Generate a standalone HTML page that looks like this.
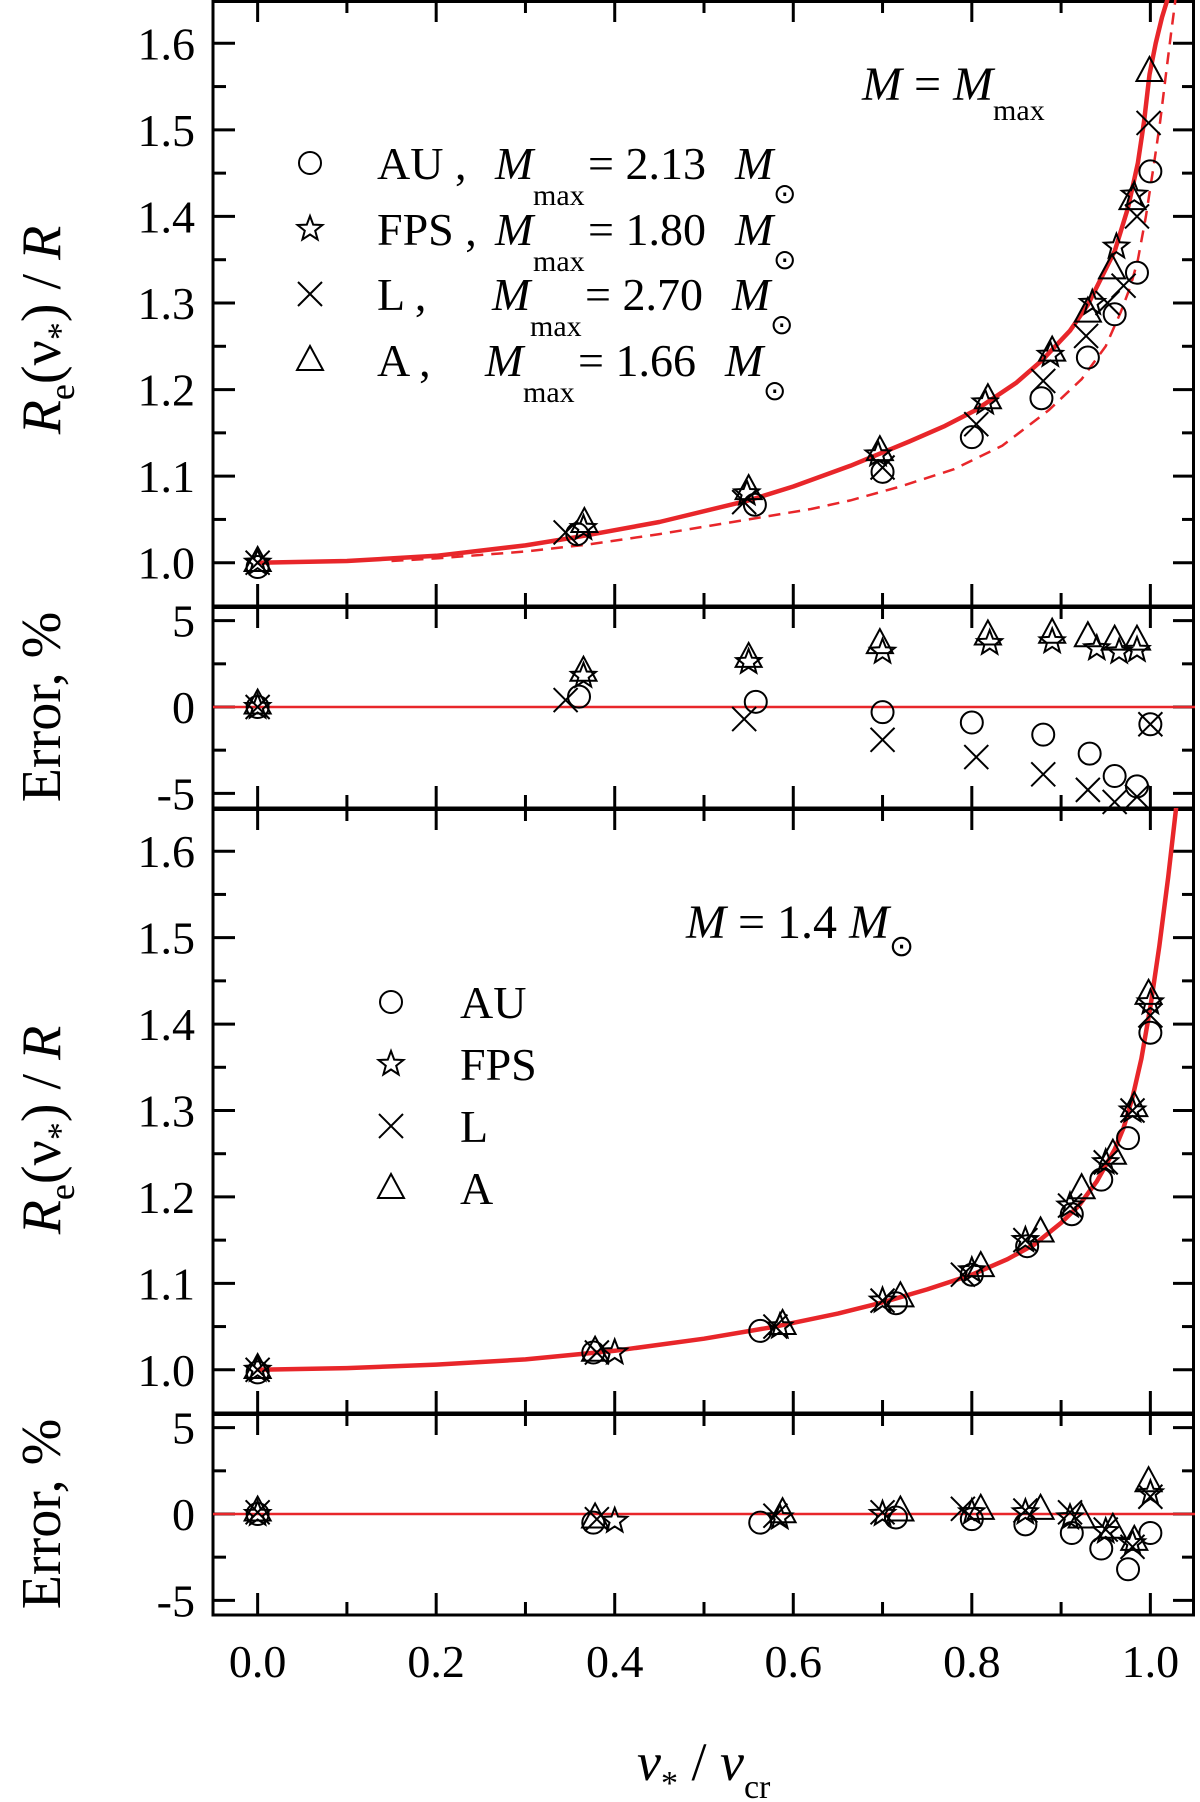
<!DOCTYPE html>
<html><head><meta charset="utf-8"><style>
html,body{margin:0;padding:0;background:#fff;}
svg{display:block;font-family:"Liberation Serif",serif;}
</style></head><body>
<svg id="chart" width="1200" height="1802" viewBox="0 0 1200 1802" xmlns="http://www.w3.org/2000/svg"></svg>
<script>
// ---- data ----
const xTicks = [0.0, 0.2, 0.4, 0.6, 0.8, 1.0];
const xTickLabels = ["0.0", "0.2", "0.4", "0.6", "0.8", "1.0"];
const rTicks = [1.0, 1.1, 1.2, 1.3, 1.4, 1.5, 1.6];
const rTickLabels = ["1.0", "1.1", "1.2", "1.3", "1.4", "1.5", "1.6"];
const eTicks = [-5, 0, 5];
const eTickLabels = ["-5", "0", "5"];

const curveTopSolidX = [0, 0.1, 0.2, 0.3, 0.36, 0.45, 0.55, 0.6, 0.664, 0.73, 0.77, 0.804, 0.85, 0.879, 0.91, 0.93, 0.96, 0.975, 0.986, 0.993, 0.999, 1.006, 1.013, 1.019, 1.025];
const curveTopSolidY = [1.0, 1.002, 1.008, 1.02, 1.03, 1.047, 1.072, 1.088, 1.112, 1.14, 1.158, 1.176, 1.208, 1.234, 1.268, 1.298, 1.36, 1.41, 1.462, 1.51, 1.564, 1.6, 1.63, 1.65, 1.7];
const curveTopDashX = [0.15, 0.2, 0.3, 0.37, 0.45, 0.55, 0.62, 0.664, 0.72, 0.78, 0.834, 0.886, 0.923, 0.95, 0.967, 0.978, 0.986, 0.995, 1.004, 1.011, 1.017, 1.023, 1.028, 1.035];
const curveTopDashY = [1.002, 1.005, 1.013, 1.021, 1.033, 1.05, 1.062, 1.072, 1.088, 1.108, 1.135, 1.176, 1.212, 1.25, 1.29, 1.32, 1.35, 1.4, 1.46, 1.51, 1.56, 1.61, 1.65, 1.72];
const curveBotX = [0, 0.1, 0.2, 0.3, 0.4, 0.5, 0.58, 0.65, 0.7, 0.75, 0.8, 0.84, 0.87, 0.9, 0.92, 0.94, 0.96, 0.97, 0.98, 0.99, 1.0, 1.01, 1.02, 1.03];
const curveBotY = [1.0, 1.002, 1.006, 1.012, 1.022, 1.036, 1.05, 1.065, 1.078, 1.093, 1.11, 1.128, 1.145, 1.17, 1.19, 1.218, 1.255, 1.28, 1.315, 1.36, 1.42, 1.49, 1.57, 1.66];

// Panel 1: M = Mmax
const p1AUx = [0, 0.358, 0.557, 0.7, 0.8, 0.878, 0.93, 0.96, 0.985, 1.0];
const p1AUy = [0.995, 1.033, 1.067, 1.105, 1.145, 1.19, 1.237, 1.287, 1.335, 1.452];
const p1FPSx = [0, 0.365, 0.548, 0.695, 0.815, 0.888, 0.935, 0.962, 0.982];
const p1FPSy = [1.0, 1.04, 1.08, 1.125, 1.185, 1.24, 1.30, 1.365, 1.425];
const p1Lx = [0, 0.345, 0.545, 0.7, 0.805, 0.88, 0.928, 0.952, 0.97, 0.985, 0.998];
const p1Ly = [1.0, 1.035, 1.07, 1.11, 1.16, 1.21, 1.262, 1.3, 1.32, 1.40, 1.508];
const p1Ax = [0, 0.366, 0.55, 0.697, 0.818, 0.89, 0.93, 0.957, 0.98, 0.999];
const p1Ay = [1.002, 1.047, 1.085, 1.13, 1.19, 1.245, 1.29, 1.34, 1.42, 1.568];
// Panel 2: errors
const p2AUx = [0, 0.36, 0.558, 0.7, 0.8, 0.88, 0.932, 0.96, 0.985, 1.0];
const p2AUy = [0, 0.6, 0.3, -0.3, -0.9, -1.6, -2.7, -4.0, -4.6, -1.0];
const p2FPSx = [0, 0.365, 0.55, 0.7, 0.82, 0.89, 0.94, 0.965, 0.985];
const p2FPSy = [0, 1.8, 2.6, 3.2, 3.7, 3.8, 3.4, 3.2, 3.3];
const p2Lx = [0, 0.345, 0.545, 0.7, 0.805, 0.88, 0.93, 0.96, 0.985, 1.0];
const p2Ly = [0, 0.4, -0.7, -1.9, -2.9, -3.9, -4.8, -5.5, -5.2, -1.0];
const p2Ax = [0, 0.365, 0.55, 0.697, 0.818, 0.89, 0.93, 0.96, 0.985];
const p2Ay = [0.2, 2.1, 2.9, 3.7, 4.2, 4.3, 4.1, 3.9, 3.9];
// Panel 3: M = 1.4
const p3AUx = [0, 0.376, 0.563, 0.715, 0.8, 0.862, 0.912, 0.945, 0.975, 1.0];
const p3AUy = [0.997, 1.02, 1.045, 1.077, 1.11, 1.143, 1.18, 1.22, 1.268, 1.39];
const p3FPSx = [0, 0.4, 0.585, 0.7, 0.8, 0.86, 0.91, 0.95, 0.98, 1.0];
const p3FPSy = [1.0, 1.02, 1.05, 1.08, 1.115, 1.15, 1.19, 1.24, 1.3, 1.425];
const p3Lx = [0, 0.38, 0.58, 0.7, 0.79, 0.86, 0.91, 0.95, 0.98, 1.0];
const p3Ly = [1.0, 1.02, 1.05, 1.08, 1.11, 1.15, 1.19, 1.24, 1.3, 1.41];
const p3Ax = [0, 0.378, 0.588, 0.72, 0.81, 0.877, 0.923, 0.958, 0.982, 0.998];
const p3Ay = [1.002, 1.022, 1.053, 1.085, 1.12, 1.16, 1.21, 1.25, 1.305, 1.435];
// Panel 4: errors
const p4AUx = [0, 0.376, 0.563, 0.715, 0.8, 0.86, 0.912, 0.945, 0.975, 1.0];
const p4AUy = [0, -0.5, -0.5, -0.2, -0.3, -0.6, -1.1, -2.0, -3.2, -1.1];
const p4FPSx = [0, 0.4, 0.585, 0.7, 0.8, 0.86, 0.91, 0.95, 0.98, 1.0];
const p4FPSy = [0, -0.4, -0.2, 0, 0.1, 0.1, -0.2, -1.0, -1.7, 1.2];
const p4Lx = [0, 0.38, 0.58, 0.7, 0.79, 0.86, 0.91, 0.95, 0.98, 1.0];
const p4Ly = [0.1, -0.3, -0.1, 0.1, 0.3, 0.2, 0.1, -0.9, -1.9, 1.0];
const p4Ax = [0, 0.378, 0.588, 0.72, 0.81, 0.877, 0.923, 0.958, 0.982, 0.998];
const p4Ay = [0.2, -0.2, 0.1, 0.2, 0.3, 0.3, -0.2, -0.8, -1.5, 1.9];

// ---- layout ----
const NS = "http://www.w3.org/2000/svg";
const svg = document.getElementById("chart");
const L = 213, R = 1195;
const xMin = -0.05, xMax = 1.05;
function sx(v){ return L + (v - xMin) / (xMax - xMin) * (R - L); }
const panels = [
  {top:0, bot:606, min:0.95, max:1.65, kind:"r", name:"top-ratio-panel"},
  {top:606, bot:808, min:-5.85, max:5.85, kind:"e", name:"top-error-panel"},
  {top:808, bot:1413, min:0.95, max:1.65, kind:"r", name:"bottom-ratio-panel"},
  {top:1413, bot:1615, min:-5.85, max:5.85, kind:"e", name:"bottom-error-panel"}
];
function syFor(p){ return v => p.bot - (v - p.min) / (p.max - p.min) * (p.bot - p.top); }

function el(tag, attrs, parent){
  const e = document.createElementNS(NS, tag);
  for (const k in attrs) e.setAttribute(k, attrs[k]);
  (parent || svg).appendChild(e);
  return e;
}

const defs = el("defs", {});
panels.forEach((p, i) => {
  const cp = el("clipPath", {id: "clip" + i}, defs);
  el("rect", {x: L, y: p.top, width: R - L, height: p.bot - p.top}, cp);
});

panels.forEach((p, i) => {
  const g = el("g", {});
  
  
  const sy = syFor(p);
  for (let k = 0; k <= 10; k++) {
    const v = k / 10;
    const x = sx(v);
    const len = (k % 2 === 0) ? 22 : 13;
    el("line", {x1: x, y1: p.bot, x2: x, y2: p.bot - len, stroke: "#000", "stroke-width": 3}, g);
    el("line", {x1: x, y1: p.top, x2: x, y2: p.top + len, stroke: "#000", "stroke-width": 3}, g);
  }
  const major = p.kind === "r" ? rTicks : eTicks;
  const labels = p.kind === "r" ? rTickLabels : eTickLabels;
  const step = p.kind === "r" ? 0.05 : 2.5;
  for (let v = Math.ceil(p.min / step) * step; v <= p.max + 1e-9; v += step) {
    const y = sy(v);
    const isMajor = major.some(m => Math.abs(m - v) < 1e-6);
    const len = isMajor ? 22 : 13;
    el("line", {x1: L, y1: y, x2: L + len, y2: y, stroke: "#000", "stroke-width": 3}, g);
    el("line", {x1: R, y1: y, x2: R - len, y2: y, stroke: "#000", "stroke-width": 3}, g);
  }
  major.forEach((v, j) => {
    const t = el("text", {x: 195, y: sy(v) + 16, "text-anchor": "end", "font-size": 46}, g);
    t.textContent = labels[j];
    
    
  });
  el("rect", {x: L, y: p.top + 1.5, width: R - L - 1.5, height: p.bot - p.top - 1.5, fill: "none", stroke: "#000", "stroke-width": 3}, g);
  if (p.kind === "e") {
    const z = el("line", {x1: L, y1: sy(0), x2: R, y2: sy(0), stroke: "#e8262a", "stroke-width": 2.5}, g);
    
    
  }
});

xTicks.forEach((v, j) => {
  const t = el("text", {x: sx(v), y: 1677, "text-anchor": "middle", "font-size": 46});
  t.textContent = xTickLabels[j];
  
  
});

function drawCurve(xs, ys, p, idx, dashed, name){
  const sy = syFor(p);
  const d = xs.map((x, i) => (i ? "L" : "M") + sx(x).toFixed(1) + "," + sy(ys[i]).toFixed(1)).join(" ");
  const path = el("path", {d: d, fill: "none", stroke: "#e8262a", "stroke-width": dashed ? 2.5 : 4.5, "stroke-dasharray": dashed ? "12,8" : "none", "stroke-linejoin": "round", "clip-path": "url(#clip" + idx + ")"});
  
  
}
drawCurve(curveTopDashX, curveTopDashY, panels[0], 0, true, 'dashed-curve-mmax');
drawCurve(curveTopSolidX, curveTopSolidY, panels[0], 0, false, 'solid-curve-mmax');
drawCurve(curveBotX, curveBotY, panels[2], 2, false, 'solid-curve-1-4');

function marker(type, x, y, parent){
  const s = {stroke: "#000", "stroke-width": 2, fill: "none"};
  if (type === "circle") return el("circle", Object.assign({cx: x, cy: y, r: 11}, s), parent);
  if (type === "cross") return el("path", Object.assign({d: `M${x-12},${y-12}L${x+12},${y+12}M${x-12},${y+12}L${x+12},${y-12}`}, s), parent);
  if (type === "tri") return el("path", Object.assign({d: `M${x},${y-14}L${x+13},${y+10}L${x-13},${y+10}Z`}, s), parent);
  if (type === "star") {
    let d = "";
    for (let k = 0; k < 10; k++) {
      const a = -Math.PI / 2 + k * Math.PI / 5;
      const r = k % 2 ? 5.5 : 13;
      d += (k ? "L" : "M") + (x + r * Math.cos(a)).toFixed(1) + "," + (y + r * Math.sin(a)).toFixed(1);
    }
    return el("path", Object.assign({d: d + "Z"}, s), parent);
  }
}
function drawSeries(xs, ys, p, type, name){
  const sy = syFor(p);
  const g = el("g", {});
  
  
  xs.forEach((x, i) => {
    const m = marker(type, sx(x), sy(ys[i]), g);
    
    
  });
}
drawSeries(p1AUx, p1AUy, panels[0], "circle", "au-series-mmax");
drawSeries(p1FPSx, p1FPSy, panels[0], "star", "fps-series-mmax");
drawSeries(p1Lx, p1Ly, panels[0], "cross", "l-series-mmax");
drawSeries(p1Ax, p1Ay, panels[0], "tri", "a-series-mmax");
drawSeries(p2AUx, p2AUy, panels[1], "circle", "au-error-mmax");
drawSeries(p2FPSx, p2FPSy, panels[1], "star", "fps-error-mmax");
drawSeries(p2Lx, p2Ly, panels[1], "cross", "l-error-mmax");
drawSeries(p2Ax, p2Ay, panels[1], "tri", "a-error-mmax");
drawSeries(p3AUx, p3AUy, panels[2], "circle", "au-series-1-4");
drawSeries(p3FPSx, p3FPSy, panels[2], "star", "fps-series-1-4");
drawSeries(p3Lx, p3Ly, panels[2], "cross", "l-series-1-4");
drawSeries(p3Ax, p3Ay, panels[2], "tri", "a-series-1-4");
drawSeries(p4AUx, p4AUy, panels[3], "circle", "au-error-1-4");
drawSeries(p4FPSx, p4FPSy, panels[3], "star", "fps-error-1-4");
drawSeries(p4Lx, p4Ly, panels[3], "cross", "l-error-1-4");
drawSeries(p4Ax, p4Ay, panels[3], "tri", "a-error-1-4");

const legTypes = ["circle", "star", "cross", "tri"];
const legNames = ["AU", "FPS", "L", "A"];
const legMass = ["2.13", "1.80", "2.70", "1.66"];
const leg1Y = [163, 229, 294, 360];
const leg1Mx = [495, 495, 492, 485];
legTypes.forEach((t, i) => {
  const g = el("g", {});
  
  
  marker(t, 310, leg1Y[i], g);
  const tx = el("text", {x: 377, y: leg1Y[i] + 16, "font-size": 46}, g);
  tx.textContent = legNames[i] + " ,";
  const tm = el("text", {x: leg1Mx[i], y: leg1Y[i] + 16, "font-size": 46, "font-style": "italic"}, g);
  tm.textContent = "M";
  const ts = el("text", {x: leg1Mx[i] + 38, y: leg1Y[i] + 42, "font-size": 30}, g);
  ts.textContent = "max";
  const te = el("text", {x: leg1Mx[i] + 93, y: leg1Y[i] + 16, "font-size": 46}, g);
  te.textContent = "= " + legMass[i];
  const tm2 = el("text", {x: leg1Mx[i] + 240, y: leg1Y[i] + 16, "font-size": 46, "font-style": "italic"}, g);
  tm2.textContent = "M";
  const tsun = el("text", {x: leg1Mx[i] + 278, y: leg1Y[i] + 40, "font-size": 28}, g);
  tsun.textContent = "⊙";
});
const leg2Y = [1002, 1064, 1126, 1188];
legTypes.forEach((t, i) => {
  const g = el("g", {});
  
  
  marker(t, 391, leg2Y[i], g);
  const tx = el("text", {x: 460, y: leg2Y[i] + 16, "font-size": 46}, g);
  tx.textContent = legNames[i];
});

const a1 = el("text", {x: 862, y: 100, "font-size": 48});


a1.innerHTML = '<tspan font-style="italic">M</tspan> = <tspan font-style="italic">M</tspan><tspan font-size="30" dy="20">max</tspan>';
const a2 = el("text", {x: 686, y: 938, "font-size": 48});


a2.innerHTML = '<tspan font-style="italic">M</tspan> = 1.4 <tspan font-style="italic">M</tspan><tspan font-size="30" dy="18">⊙</tspan>';

function yTitle(cy, html, name){
  const t = el("text", {x: 0, y: 0, "font-size": 56, "text-anchor": "middle", transform: `translate(60,${cy}) rotate(-90)`});
  t.innerHTML = html;
  
  
}
yTitle(330, '<tspan font-style="italic">R</tspan><tspan font-size="36" dy="14">e</tspan><tspan dy="-14">(ν</tspan><tspan font-size="36" dy="12">*</tspan><tspan dy="-12">) / </tspan><tspan font-style="italic">R</tspan>', 'y-axis-title-top-ratio');
yTitle(707, 'Error, %', 'y-axis-title-top-error');
yTitle(1130, '<tspan font-style="italic">R</tspan><tspan font-size="36" dy="14">e</tspan><tspan dy="-14">(ν</tspan><tspan font-size="36" dy="12">*</tspan><tspan dy="-12">) / </tspan><tspan font-style="italic">R</tspan>', 'y-axis-title-bottom-ratio');
yTitle(1514, 'Error, %', 'y-axis-title-bottom-error');

const xt = el("text", {x: 637, y: 1780, "font-size": 54});


xt.innerHTML = '<tspan font-style="italic">ν</tspan><tspan font-size="34" dy="14">*</tspan><tspan dy="-14"> / </tspan><tspan font-style="italic">ν</tspan><tspan font-size="34" dy="18">cr</tspan>';
</script>
</body></html>
